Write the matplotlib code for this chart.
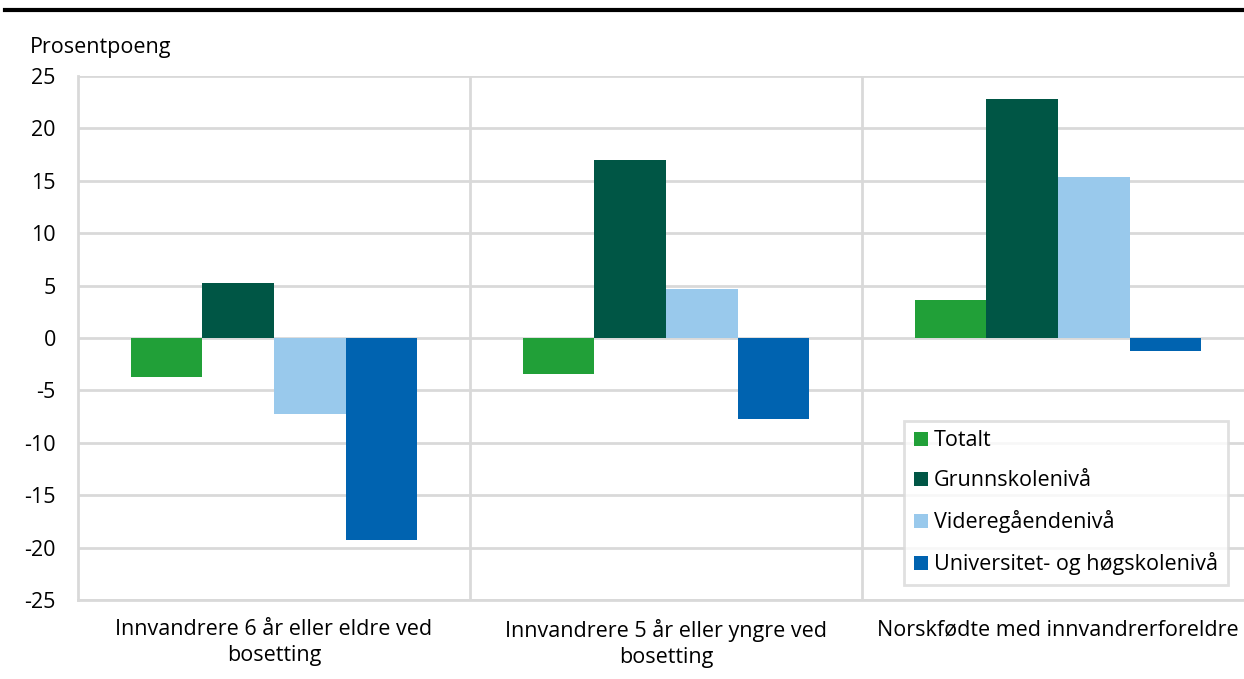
import numpy as np
import matplotlib.pyplot as plt
from matplotlib.lines import Line2D

categories = ["Innvandrere 6 år eller eldre ved\nbosetting",
              "Innvandrere 5 år eller yngre ved\nbosetting",
              "Norskfødte med innvandrerforeldre"]
series = ["Totalt", "Grunnskolenivå", "Videregåendenivå", "Universitet- og høgskolenivå"]
totalt = [-3.7, -3.4, 3.6]
grunnskole = [5.25, 17.0, 22.8]
videregaende = [-7.25, 4.7, 15.4]
universitet = [-19.3, -7.7, -1.2]
colors = ["#21a038", "#005645", "#99c9ec", "#0063b0"]

plt.rcParams["font.family"] = ["Open Sans", "DejaVu Sans"]
plt.rcParams["font.size"] = 15.5
plt.rcParams["axes.unicode_minus"] = False

fig = plt.figure(figsize=(12.44, 6.79), dpi=100)
ax = fig.add_axes([78 / 1244, 79 / 679, 1176 / 1244, 524 / 679])

values = [totalt, grunnskole, videregaende, universitet]
x = np.arange(len(categories))
w = 0.1825
for i, (name, vals) in enumerate(zip(series, values)):
    ax.bar(x + (i - 1.5) * w, vals, width=w, color=colors[i], label=name, zorder=3)

ax.set_xlim(-0.5, 2.5)
ax.set_ylim(-25, 25)
ax.set_yticks(range(-25, 26, 5))
ax.yaxis.grid(True, color="#d9d9d9", linewidth=2, zorder=0)
for b in [0.5, 1.5]:
    ax.axvline(b, color="#d9d9d9", linewidth=2, zorder=0)
ax.set_xticks(x)
ax.set_xticklabels(categories, linespacing=1.3)
ax.tick_params(length=0)
ax.tick_params(axis="x", pad=14)
ax.tick_params(axis="y", pad=16)
for s in ["top", "right"]:
    ax.spines[s].set_visible(False)
for s in ["left", "bottom"]:
    ax.spines[s].set_color("#d9d9d9")
    ax.spines[s].set_linewidth(2)

fig.text(30 / 1244, 1 - 47 / 679, "Prosentpoeng", ha="left", va="center")
fig.add_artist(Line2D([5 / 1244, 1], [1 - 10 / 679, 1 - 10 / 679], color="black", linewidth=3))

leg = ax.legend(loc="lower left", bbox_to_anchor=(904 / 1244, 94 / 679),
                bbox_transform=fig.transFigure, frameon=True, fancybox=False,
                handlelength=0.65, handleheight=0.65, handletextpad=0.3,
                labelspacing=0.88, borderpad=0.45, borderaxespad=0)
leg.get_frame().set_edgecolor("#d9d9d9")
leg.get_frame().set_linewidth(2)

fig.savefig("out.png", dpi=100)
